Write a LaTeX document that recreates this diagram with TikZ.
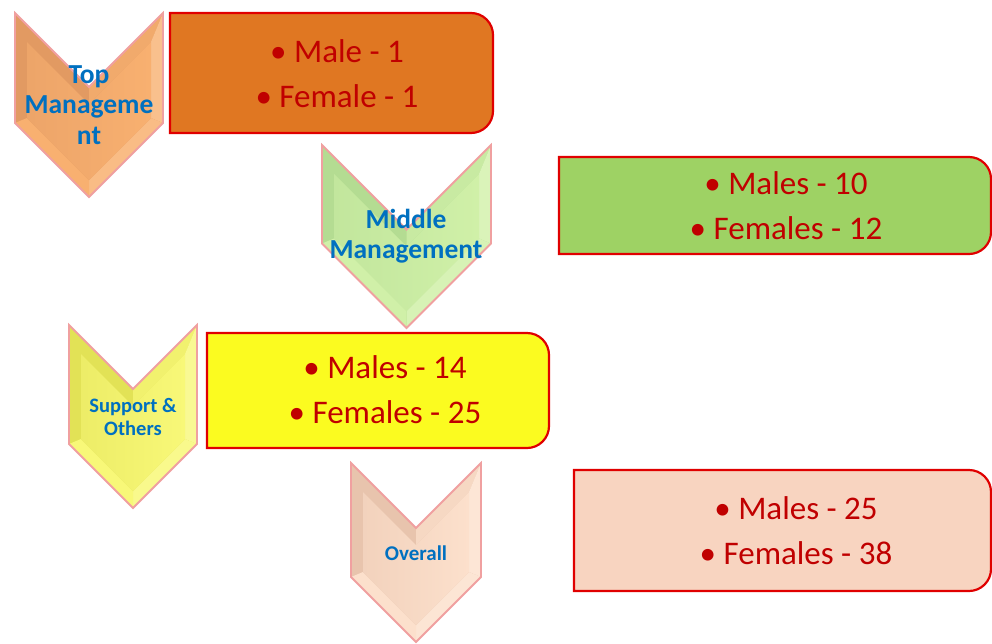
\documentclass[tikz,border=0pt]{standalone}
\usepackage{fontspec}
\setmainfont{Carlito}
\usetikzlibrary{calc}
\definecolor{txtred}{HTML}{C00000}
\definecolor{txtblue}{HTML}{0070C0}
\definecolor{bordred}{HTML}{E00000}
\definecolor{chevbord}{HTML}{F0A0A0}
\definecolor{odark}{HTML}{D8905C}
\definecolor{olight}{HTML}{F8B070}
\definecolor{gdark}{HTML}{A8D488}
\definecolor{glight}{HTML}{D0F0A8}
\definecolor{ydark}{HTML}{D8D848}
\definecolor{ylight}{HTML}{F8F878}
\definecolor{pdark}{HTML}{E0B8A0}
\definecolor{plight}{HTML}{FCE0CC}
\definecolor{boxorange}{HTML}{E07722}
\definecolor{boxgreen}{HTML}{9ED264}
\definecolor{boxyellow}{HTML}{FBFB20}
\definecolor{boxpeach}{HTML}{F8D4C0}
\newcommand\mychev[6]{%
  \pgfmathsetmacro\cM{(#1+#2)/2}%
  \pgfmathsetmacro\cH{(#2-#1)/2}%
  \pgfmathsetmacro\cN{#3+\cH}%
  \pgfmathsetmacro\cS{#4-\cH}%
  \pgfmathsetmacro\iL{#1+12}%
  \pgfmathsetmacro\iR{#2-12}%
  \pgfmathsetmacro\iT{#3+29}%
  \pgfmathsetmacro\iN{\cN+17}%
  \pgfmathsetmacro\iS{\cS-5}%
  \pgfmathsetmacro\iP{#4-17}%
  \fill[#5!70!#6] (#1,-#3) -- (\cM,-\cN) -- (#2,-#3) -- (#2,-\cS) -- (\cM,-#4) -- (#1,-\cS) -- cycle;
  \fill[#6!80!#5] (\cM,-\cN) -- (#2,-#3) -- (\iR,-\iT) -- (\cM,-\iN) -- cycle;
  \fill[#6!80!white] (#2,-#3) -- (#2,-\cS) -- (\iR,-\iS) -- (\iR,-\iT) -- cycle;
  \fill[#6!85!white] (#2,-\cS) -- (\cM,-#4) -- (\cM,-\iP) -- (\iR,-\iS) -- cycle;
  \fill[#6] (\cM,-#4) -- (#1,-\cS) -- (\iL,-\iS) -- (\cM,-\iP) -- cycle;
  \shade[left color=#5!35!#6, right color=#6] (\iL,-\iT) -- (\cM,-\iN) -- (\iR,-\iT) -- (\iR,-\iS) -- (\cM,-\iP) -- (\iL,-\iS) -- cycle;
  \draw[chevbord, line width=1.8pt, line join=miter] (#1,-#3) -- (\cM,-\cN) -- (#2,-#3) -- (#2,-\cS) -- (\cM,-#4) -- (#1,-\cS) -- cycle;
}
\newcommand\mybox[5]{%
  \filldraw[fill=#5, draw=bordred, line width=2.2pt] (#1,-#3) -- (#2-22,-#3) arc[start angle=90,end angle=0,radius=22] -- (#2,-#4+22) arc[start angle=0,end angle=-90,radius=22] -- (#1,-#4) -- cycle;
}
\tikzset{
  boxtxt/.style={text=txtred, align=center, font=\fontsize{33}{45}\selectfont, inner sep=0pt},
  chevtxt/.style={text=txtblue, align=center, inner sep=0pt},
}
\begin{document}
\begin{tikzpicture}[x=1pt,y=1pt]
\useasboundingbox (0,0) rectangle (992,-643);
\fill[white] (0,0) rectangle (992,-643);
\mychev{15}{163}{13}{197}{odark}{olight}
\mychev{322}{491}{145}{328}{gdark}{glight}
\mychev{69}{197}{325}{508}{ydark}{ylight}
\mychev{351}{481}{463}{642}{pdark}{plight}
\mybox{170}{493}{13}{133}{boxorange}
\mybox{559}{991}{157}{254}{boxgreen}
\mybox{207}{549}{333}{448}{boxyellow}
\mybox{574}{991}{470}{591}{boxpeach}
\node[chevtxt, font=\bfseries\fontsize{27.5}{30.5}\selectfont] (c1) at (89,-105) {Top\\Manageme\\nt};
\node[chevtxt, font=\bfseries\fontsize{27.5}{30}\selectfont] (c2) at (406,-236) {Middle\\Management};
\node[chevtxt, font=\bfseries\fontsize{20.5}{23}\selectfont] (c3) at (133,-417) {Support \&\\Others};
\node[chevtxt, font=\bfseries\fontsize{21}{24}\selectfont] (c4) at (416,-553) {Overall};
\node[boxtxt] (b1) at (337,-74) {• Male - 1\\• Female - 1};
\node[boxtxt] (b2) at (786,-205.5) {• Males - 10\\• Females - 12};
\node[boxtxt] (b3) at (385,-389.5) {• Males - 14\\• Females - 25};
\node[boxtxt] (b4) at (796,-531) {• Males - 25\\• Females - 38};
\end{tikzpicture}
\end{document}
